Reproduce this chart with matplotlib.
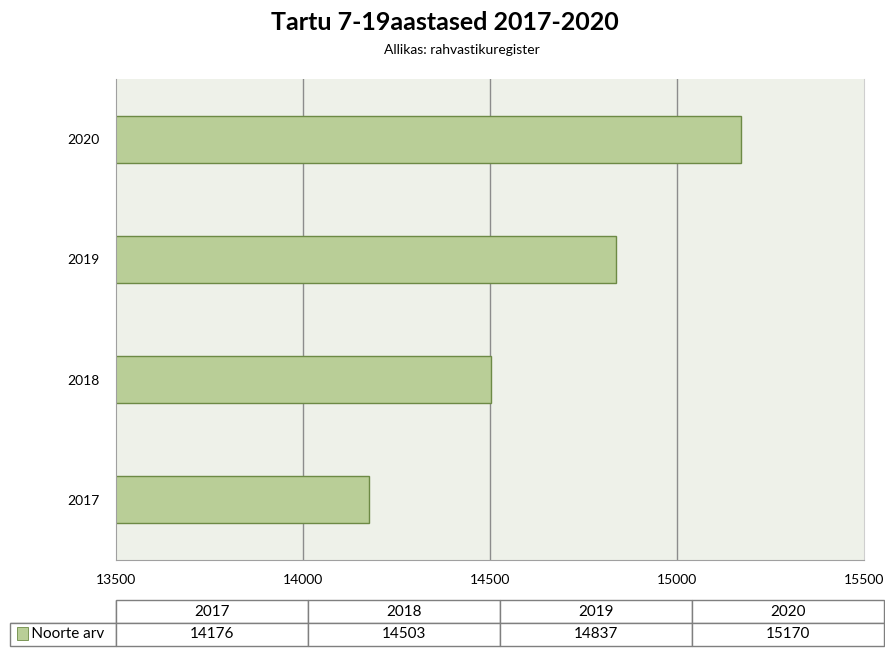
import matplotlib.pyplot as plt
from matplotlib.patches import Rectangle

years = ["2017", "2018", "2019", "2020"]
values = [14176, 14503, 14837, 15170]
xticks = [13500, 14000, 14500, 15000, 15500]
series_name = "Noorte arv"

bar_color = "#b9ce97"
edge_color = "#6d8a45"
bg_color = "#eef1e9"
grid_color = "#8c8c8c"

plt.rcParams["font.family"] = ["Lato", "DejaVu Sans"]

fig = plt.figure(figsize=(8.85, 6.48), dpi=100)

# main plot area
ax = fig.add_axes([116 / 885, 1 - 560 / 648, 748 / 885, 481 / 648])
ax.set_facecolor(bg_color)
ax.barh(years, values, height=0.39, color=bar_color, edgecolor=edge_color,
        linewidth=1, zorder=3)
ax.set_xlim(13500, 15500)
ax.set_ylim(-0.5, 3.5)
ax.set_xticks(xticks)
ax.set_xticklabels([str(t) for t in xticks], fontsize=10)
ax.tick_params(axis="y", labelsize=10, length=0, pad=12)
ax.tick_params(axis="x", length=0, pad=10)
ax.grid(axis="x", color=grid_color, linewidth=1, zorder=1)
# no grid line on the outer edges
gl = ax.get_xgridlines()
gl[0].set_visible(False)
gl[-1].set_visible(False)
ax.spines["top"].set_visible(False)
ax.spines["left"].set_color("#a0a0a0")
ax.spines["bottom"].set_color("#a0a0a0")
ax.spines["right"].set_color("#cfcfcf")
ax.spines["left"].set_zorder(4)

fig.text(0.503, 1 - 22 / 648, "Tartu 7-19aastased 2017-2020", ha="center",
         va="center", fontsize=18, fontweight="bold")
fig.text(462 / 885, 1 - 50 / 648, "Allikas: rahvastikuregister", ha="center",
         va="center", fontsize=10)

# data table below
tax = fig.add_axes([10 / 885, 2 / 648, 874 / 885, 46 / 648])
tax.axis("off")
cells = [[""] + years, [series_name] + [str(v) for v in values]]
widths = [106 / 874] + [192 / 874] * 4
tbl = tax.table(cellText=cells, colWidths=widths, bbox=[0, 0, 1, 1],
                cellLoc="center")
tbl.auto_set_font_size(False)
for (r, c), cell in tbl.get_celld().items():
    cell.set_edgecolor("#7f7f7f")
    cell.set_linewidth(1)
    cell.get_text().set_fontsize(11)
    if r == 0 and c == 0:
        cell.visible_edges = "BR"
    if r == 1 and c == 0:
        cell.get_text().set_text("     " + series_name)
        cell.get_text().set_ha("left")
        cell.PAD = 0.02
tax.add_patch(Rectangle((0.008, 0.12), 0.013, 0.3, transform=tax.transAxes,
                        facecolor=bar_color, edgecolor=edge_color, lw=0.6,
                        clip_on=False, zorder=5))

fig.savefig("out.png", dpi=100)
